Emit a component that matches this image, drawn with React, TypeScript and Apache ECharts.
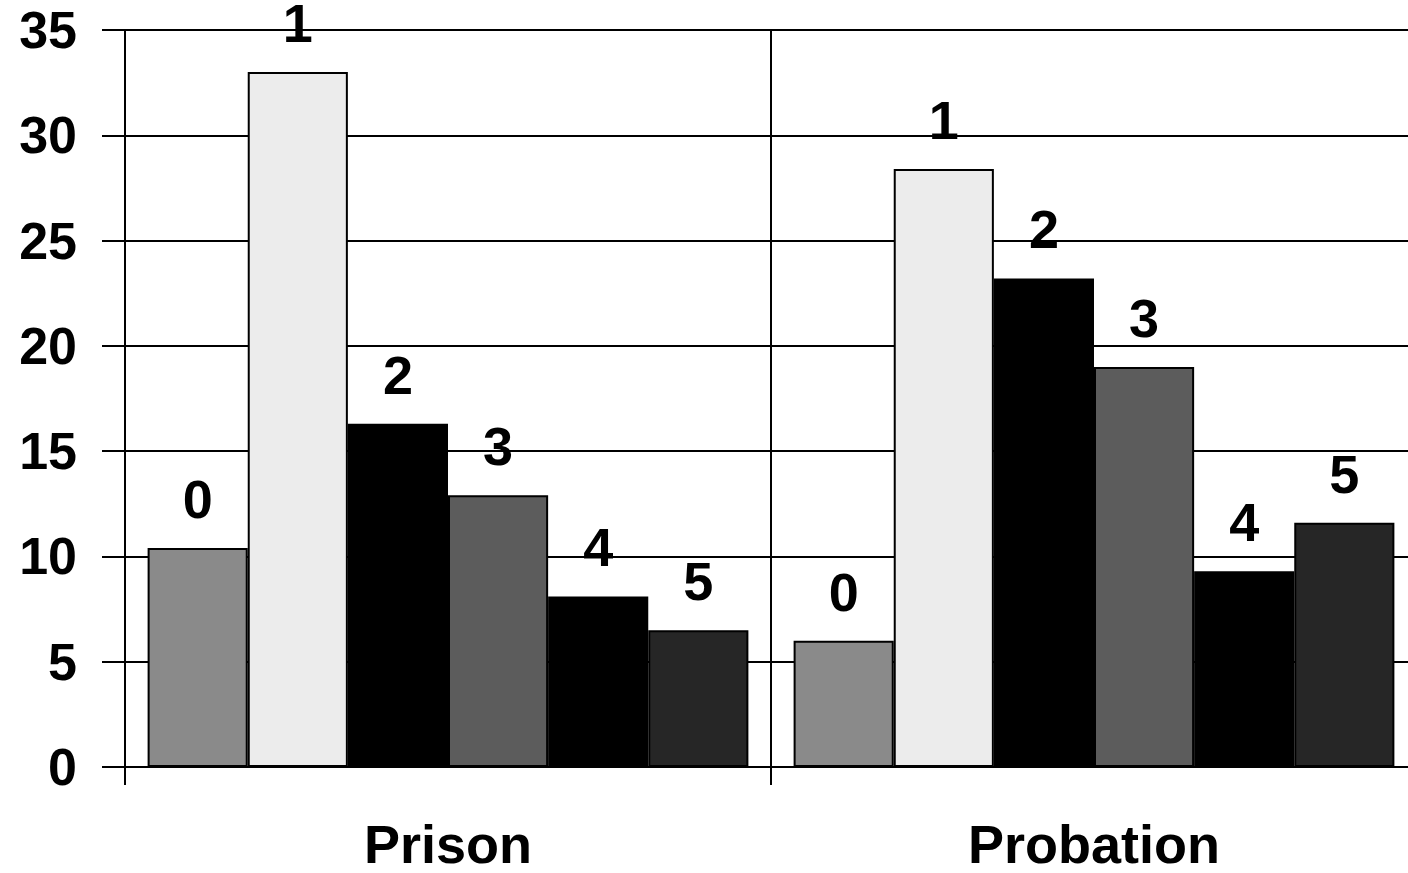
import React, { useEffect, useRef } from "react";
import * as echarts from "echarts";

const categories = ["Prison", "Probation"];
const seriesNames = ["0", "1", "2", "3", "4", "5"];
const values0 = [10.4, 6.0];
const values1 = [33.0, 28.4];
const values2 = [16.3, 23.2];
const values3 = [12.9, 19.0];
const values4 = [8.1, 9.3];
const values5 = [6.5, 11.6];
const seriesValues = [values0, values1, values2, values3, values4, values5];
const seriesColors = ["#8a8a8a", "#ececec", "#000000", "#5c5c5c", "#000000", "#262626"];
const yTicks = { min: 0, max: 35, interval: 5 };

export default function App() {
  const ref = useRef<HTMLDivElement>(null);
  useEffect(() => {
    if (!ref.current) return;
    const chart = echarts.init(ref.current, null, { renderer: "svg" });
    const font = "'Liberation Sans', Arial, sans-serif";
    chart.setOption({
      animation: false,
      backgroundColor: "#ffffff",
      grid: {
        left: 125,
        top: 30,
        width: 1292,
        height: 737,
        containLabel: false,
        outerBoundsMode: "none",
      },
      xAxis: {
        type: "category",
        data: categories,
        axisLine: { show: true, lineStyle: { color: "#000", width: 2 } },
        axisTick: { show: true, length: 18, lineStyle: { color: "#000", width: 2 } },
        splitLine: { show: true, lineStyle: { color: "#000", width: 2 } },
        axisLabel: {
          margin: 55,
          color: "#000",
          fontFamily: font,
          fontWeight: "bold",
          fontSize: 54,
          lineHeight: 44,
        },
      },
      yAxis: {
        type: "value",
        min: yTicks.min,
        max: yTicks.max,
        interval: yTicks.interval,
        axisLine: { show: true, lineStyle: { color: "#000", width: 2 } },
        axisTick: { show: true, length: 23, lineStyle: { color: "#000", width: 2 } },
        splitLine: { show: true, lineStyle: { color: "#000", width: 2 } },
        axisLabel: {
          margin: 48,
          color: "#000",
          fontFamily: font,
          fontWeight: "bold",
          fontSize: 52,
        },
      },
      series: seriesNames.map((name, i) => ({
        name,
        type: "bar",
        data: seriesValues[i],
        barGap: "0%",
        barCategoryGap: "7%",
        itemStyle: { color: seriesColors[i], borderColor: "#000", borderWidth: 2 },
        label: {
          show: true,
          position: "top",
          distance: 26,
          formatter: name,
          color: "#000",
          fontFamily: font,
          fontWeight: "bold",
          fontSize: 54,
          lineHeight: 46,
        },
      })),
    });
    return () => chart.dispose();
  }, []);
  return <div ref={ref} style={{ width: 1408, height: 873, position: "absolute", left: 0, top: 0 }} />;
}
